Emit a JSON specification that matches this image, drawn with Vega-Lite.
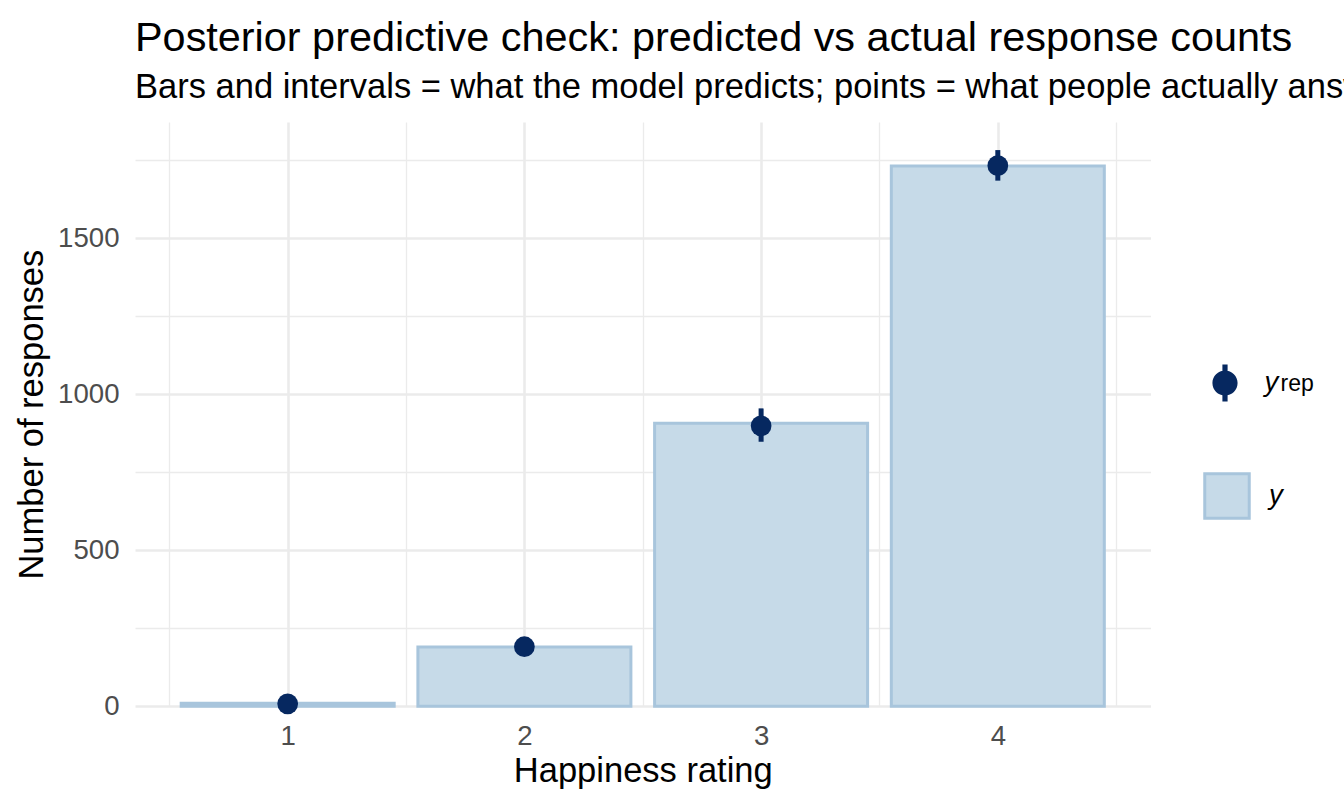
{
  "$schema": "https://vega.github.io/schema/vega-lite/v6.json",
  "width": 1015.5,
  "height": 584.3,
  "autosize": {"type": "none"},
  "padding": {"left": 135, "top": 122, "right": 193.5, "bottom": 99.7},
  "background": "white",
  "config": {"font": "Liberation Sans", "view": {"stroke": null}},
  "title": {
    "text": "Posterior predictive check: predicted vs actual response counts",
    "subtitle": "Bars and intervals = what the model predicts; points = what people actually answered",
    "anchor": "start",
    "frame": "group",
    "font": "Liberation Sans",
    "fontSize": 41.4,
    "fontWeight": "normal",
    "color": "black",
    "subtitleFont": "Liberation Sans",
    "subtitleFontSize": 34.5,
    "subtitleColor": "black",
    "subtitlePadding": 11,
    "offset": 18
  },
  "data": {
    "values": [
      {"rating": 1, "y": 10, "yrep": 8, "lo": 3, "hi": 14},
      {"rating": 2, "y": 190, "yrep": 191, "lo": 168, "hi": 214},
      {"rating": 3, "y": 907, "yrep": 899, "lo": 848, "hi": 955},
      {"rating": 4, "y": 1732, "yrep": 1733, "lo": 1685, "hi": 1783}
    ]
  },
  "layer": [
    {
      "mark": {"type": "bar", "size": 213, "stroke": "#a8c5dc", "strokeWidth": 3},
      "encoding": {
        "x": {
          "field": "rating", "type": "quantitative",
          "scale": {"domain": [0.355, 4.645], "nice": false, "zero": false, "padding": 0},
          "axis": {"orient": "top", "values": [0.5, 1.5, 2.5, 3.5, 4.5], "labels": false, "ticks": false, "domain": false, "grid": true, "gridColor": "#ebebeb", "gridWidth": 1.3, "title": null}
        },
        "y": {
          "field": "y", "type": "quantitative",
          "scale": {"domain": [0, 1873], "nice": false, "padding": 0},
          "axis": {"orient": "right", "values": [250, 750, 1250, 1750], "labels": false, "ticks": false, "domain": false, "grid": true, "gridColor": "#ebebeb", "gridWidth": 1.3, "title": null}
        },
        "fill": {
          "datum": "y", "type": "nominal",
          "scale": {"domain": ["y"], "range": ["#c6dae8"]},
          "legend": {
            "orient": "none", "legendX": 1068, "legendY": 350, "padding": 0,
            "title": null,
            "symbolType": "square", "symbolSize": 1980, "symbolStrokeColor": "#a8c5dc", "symbolStrokeWidth": 3, "symbolOpacity": 1,
            "labelFont": "Liberation Sans", "labelFontSize": 27.6, "labelFontStyle": "italic", "labelColor": "black", "labelOffset": 18
          }
        }
      }
    },
    {
      "mark": {"type": "rule", "strokeWidth": 5, "color": "#062860"},
      "encoding": {
        "x": {
          "field": "rating", "type": "quantitative",
          "axis": {"orient": "bottom", "values": [1, 2, 3, 4], "format": "d", "grid": true, "gridColor": "#ebebeb", "gridWidth": 2.6, "ticks": false, "domain": false,
            "labelFont": "Liberation Sans", "labelFontSize": 27.6, "labelColor": "#4d4d4d", "labelPadding": 16,
            "title": "Happiness rating", "titleFont": "Liberation Sans", "titleFontSize": 34.5, "titleFontWeight": "normal", "titleColor": "black", "titlePadding": 5}
        },
        "y": {
          "field": "lo", "type": "quantitative",
          "axis": {"orient": "left", "values": [0, 500, 1000, 1500], "format": "d", "grid": true, "gridColor": "#ebebeb", "gridWidth": 2.6, "ticks": false, "domain": false,
            "labelFont": "Liberation Sans", "labelFontSize": 27.6, "labelColor": "#4d4d4d", "labelPadding": 16,
            "title": "Number of responses", "titleFont": "Liberation Sans", "titleFontSize": 34.5, "titleFontWeight": "normal", "titleColor": "black", "titlePadding": 8}
        },
        "y2": {"field": "hi"}
      }
    },
    {
      "mark": {"type": "point", "filled": true, "size": 430, "opacity": 1},
      "encoding": {
        "x": {"field": "rating", "type": "quantitative", "axis": null},
        "y": {"field": "yrep", "type": "quantitative", "axis": null},
        "color": {
          "datum": "yrep", "type": "nominal",
          "scale": {"domain": ["yrep"], "range": ["#062860"]},
          "legend": {
            "orient": "none", "legendX": 1071.5, "legendY": 242.5, "padding": 0,
            "title": "rep", "titleOrient": "right", "titleAnchor": "middle", "titleBaseline": "middle",
            "titleFont": "Liberation Sans", "titleFontSize": 23, "titleFontWeight": "normal", "titleColor": "black", "titlePadding": 2,
            "symbolType": "M-0.68,0A0.68,0.68,0,1,1,0.68,0A0.68,0.68,0,1,1,-0.68,0Z M-0.14,-1H0.14V1H-0.14Z",
            "symbolSize": 1369, "symbolStrokeWidth": 0, "symbolFillColor": "#062860", "symbolOpacity": 1,
            "labelExpr": "'y'",
            "labelFont": "Liberation Sans", "labelFontSize": 27.6, "labelFontStyle": "italic", "labelColor": "black", "labelOffset": 21
          }
        }
      }
    }
  ],
  "resolve": {"axis": {"x": "independent", "y": "independent"}}
}
